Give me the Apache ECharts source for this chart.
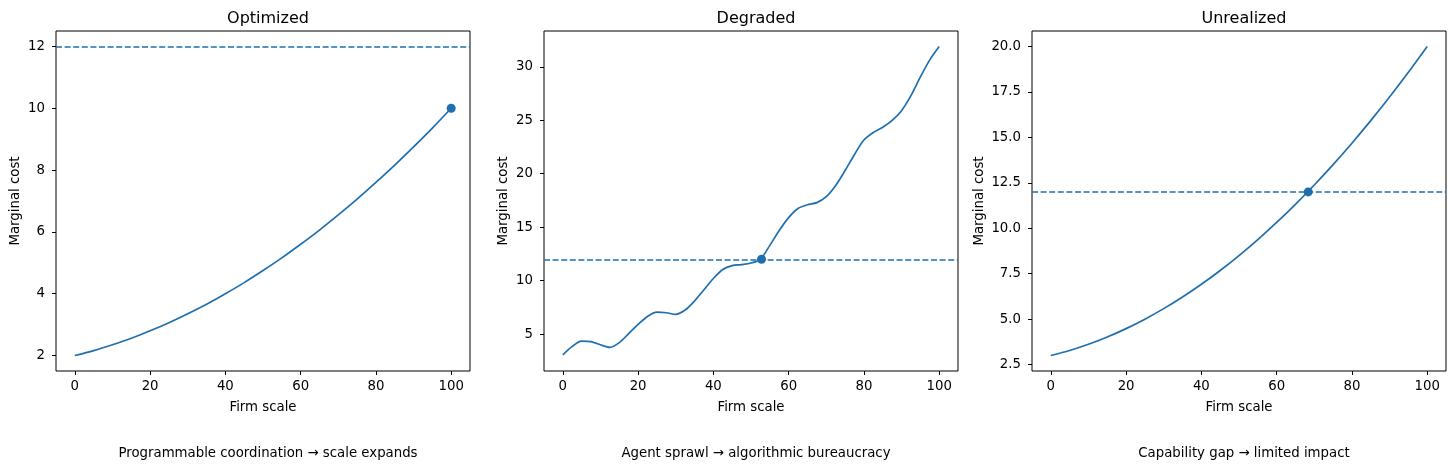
<!DOCTYPE html>
<html>
<head>
<meta charset="utf-8">
<title>Marginal cost regimes</title>
<script src="https://cdn.jsdelivr.net/npm/echarts@6/dist/echarts.min.js"></script>
<style>
  html, body { margin: 0; padding: 0; background: #fff; }
  #chart { width: 1456px; height: 469px; }
</style>
</head>
<body>
<div id="chart"></div>
<script>
// panel titles and captions
const panelTitles = ['Optimized', 'Degraded', 'Unrealized'];
const panelCaptions = [
    'Programmable coordination \u2192 scale expands',
    'Agent sprawl \u2192 algorithmic bureaucracy',
    'Capability gap \u2192 limited impact'
];

// firm scale samples for the smooth curves
const scaleSteps = [0, 5, 10, 15, 20, 25, 30, 35, 40, 45, 50, 55, 60, 65, 70, 75, 80, 85, 90, 95, 100];
const optimizedCost = [2.00, 2.16, 2.35, 2.56, 2.80, 3.06, 3.35, 3.66, 4.00, 4.36, 4.75,
    5.16, 5.60, 6.06, 6.55, 7.06, 7.60, 8.16, 8.75, 9.36, 10.00];
const unrealizedCost = [3.00, 3.28, 3.62, 4.02, 4.48, 5.00, 5.58, 6.22, 6.92, 7.68, 8.50,
    9.38, 10.32, 11.32, 12.38, 13.50, 14.68, 15.92, 17.22, 18.58, 20.00];

// the wavy one needs a finer step
const degradedSteps = [0, 2.5, 5, 7.5, 10, 12.5, 15, 17.5, 20, 22.5, 25, 27.5, 30, 32.5, 35, 37.5,
    40, 42.5, 45, 47.5, 50, 52.5, 55, 57.5, 60, 62.5, 65, 67.5, 70, 72.5, 75, 77.5,
    80, 82.5, 85, 87.5, 90, 92.5, 95, 97.5, 100];
const degradedCost = [3.05, 3.85, 4.35, 4.30, 4.00, 3.76, 4.20, 5.05, 5.90, 6.65, 7.05, 7.00, 6.85,
    7.25, 8.10, 9.15, 10.20, 11.05, 11.40, 11.50, 11.65, 12.00, 13.30, 14.70, 15.90, 16.75,
    17.10, 17.30, 17.85, 18.90, 20.30, 21.80, 23.15, 23.85, 24.35, 25.00, 25.90, 27.30,
    29.05, 30.65, 31.90];

// limit line and highlighted points
const costLimit = 12;
const markedPoints = [[100, 10], [52.8, 12], [68.4, 12]];

// tick labels
const xTicks = [0, 20, 40, 60, 80, 100];
const yTicks = [
    [2, 4, 6, 8, 10, 12],
    [5, 10, 15, 20, 25, 30],
    [2.5, 5.0, 7.5, 10.0, 12.5, 15.0, 17.5, 20.0]
];
const yRanges = [[1.5, 12.5], [1.55, 33.35], [2.15, 20.85]];

const curves = [
    scaleSteps.map((x, i) => [x, optimizedCost[i]]),
    degradedSteps.map((x, i) => [x, degradedCost[i]]),
    scaleSteps.map((x, i) => [x, unrealizedCost[i]])
];

const FONT = 'DejaVu Sans';
const FS = 13.3;
const BLUE = '#1f6fae';
const gridLefts = [56, 544, 1032];
const gridW = 414;

let grids = [], xAxes = [], yAxes = [], series = [], titles = [];

for (let i = 0; i < 3; i++) {
    grids.push({
        left: gridLefts[i], top: 31, width: gridW, height: 340,
        show: true, borderColor: '#000', borderWidth: 1, backgroundColor: 'transparent'
    });
    xAxes.push({
        type: 'value', gridIndex: i, min: -5, max: 105,
        name: 'Firm scale', nameLocation: 'middle', nameGap: 30,
        nameTextStyle: { fontFamily: FONT, fontSize: FS, color: '#000' },
        axisLine: { show: false, onZero: false },
        axisTick: { show: true, length: 4, customValues: xTicks, lineStyle: { color: '#000' } },
        axisLabel: { customValues: xTicks, margin: 9, fontFamily: FONT, fontSize: FS, color: '#000' },
        splitLine: { show: false }
    });
    const dec = i === 2 ? 1 : 0;
    yAxes.push({
        type: 'value', gridIndex: i, min: yRanges[i][0], max: yRanges[i][1],
        name: 'Marginal cost', nameLocation: 'middle', nameGap: i === 2 ? 46 : 34,
        nameTextStyle: { fontFamily: FONT, fontSize: FS, color: '#000' },
        axisLine: { show: false, onZero: false },
        axisTick: { show: true, length: 4, customValues: yTicks[i], lineStyle: { color: '#000' } },
        axisLabel: {
            customValues: yTicks[i], margin: 11, fontFamily: FONT, fontSize: FS, color: '#000',
            formatter: v => Number(v).toFixed(dec)
        },
        splitLine: { show: false }
    });
    series.push({
        type: 'line', xAxisIndex: i, yAxisIndex: i, data: curves[i],
        smooth: 0.3, showSymbol: false, silent: true,
        lineStyle: { color: BLUE, width: 1.7 },
        markLine: {
            silent: true, symbol: 'none', label: { show: false },
            lineStyle: { color: BLUE, width: 1.7, type: [6, 2.6], opacity: 1 },
            emphasis: { disabled: true },
            data: [{ yAxis: costLimit }]
        }
    });
    series.push({
        type: 'scatter', xAxisIndex: i, yAxisIndex: i, data: [markedPoints[i]],
        symbolSize: 9, itemStyle: { color: BLUE, opacity: 1 }, silent: true
    });
    const cx = gridLefts[i] + gridW / 2;
    titles.push({
        text: panelTitles[i], left: cx, top: 6, textAlign: 'center',
        textStyle: { fontFamily: FONT, fontSize: 16, fontWeight: 'normal', color: '#000' }
    });
    titles.push({
        text: panelCaptions[i], left: cx, top: 442, textAlign: 'center',
        textStyle: { fontFamily: FONT, fontSize: FS, fontWeight: 'normal', color: '#000' }
    });
}

const chart = echarts.init(document.getElementById('chart'), null, { renderer: 'canvas' });
chart.setOption({
    animation: false,
    backgroundColor: '#fff',
    title: titles,
    grid: grids,
    xAxis: xAxes,
    yAxis: yAxes,
    series: series
});
</script>
</body>
</html>
